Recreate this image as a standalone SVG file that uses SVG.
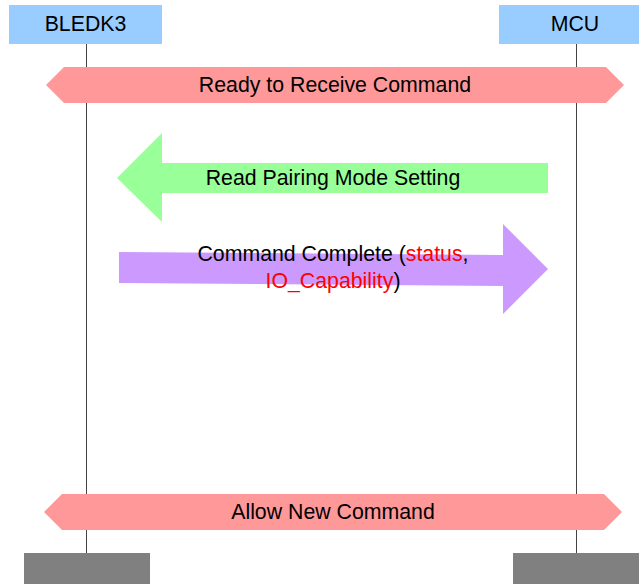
<svg xmlns="http://www.w3.org/2000/svg" width="639" height="584" viewBox="0 0 639 584">
<style>
text{font-family:"Liberation Sans",Arial,sans-serif;font-size:21.3px;fill:#000;text-anchor:middle}
.hdr{fill:#99ccff}
.foot{fill:#808080}
.life{stroke:#444;stroke-width:1}
.hex{fill:#ff9999}
.red{fill:#ff0000}
</style>
<rect width="639" height="584" fill="#fff"/>
<g id="lifelines">
<line class="life" x1="86.5" y1="44" x2="86.5" y2="553"/>
<line class="life" x1="576.5" y1="44" x2="576.5" y2="553"/>
</g>
<g id="bledk3"><rect class="hdr" x="9" y="5" width="153" height="39"/><text x="85.5" y="31">BLEDK3</text></g>
<g id="mcu"><rect class="hdr" x="499" y="5" width="140" height="39"/><text x="575" y="31">MCU</text></g>
<g id="foot-bledk3"><rect class="foot" x="24" y="553" width="126" height="31"/></g>
<g id="foot-mcu"><rect class="foot" x="513" y="553" width="126" height="31"/></g>
<g id="connectors">
<g id="ready"><polygon class="hex" points="46,85 64,67 606,67 624,85 606,103 64,103"/><text x="335" y="92">Ready to Receive Command</text></g>
<g id="read"><polygon fill="#99ff99" points="117,178 162,133 162,163 548,163 548,193 162,193 162,222"/><text x="333" y="185">Read Pairing Mode Setting</text></g>
<g id="complete"><polygon fill="#cc99ff" points="119,252 503,255 503,224 548,269 503,314 503,286 119,283"/><text x="333" y="261">Command Complete (<tspan class="red">status</tspan>,</text><text x="333" y="288"><tspan class="red">IO_Capability</tspan>)</text></g>
<g id="allow"><polygon class="hex" points="44,512 62,494 604,494 622,512 604,530 62,530"/><text x="333" y="519">Allow New Command</text></g>
</g>
</svg>
